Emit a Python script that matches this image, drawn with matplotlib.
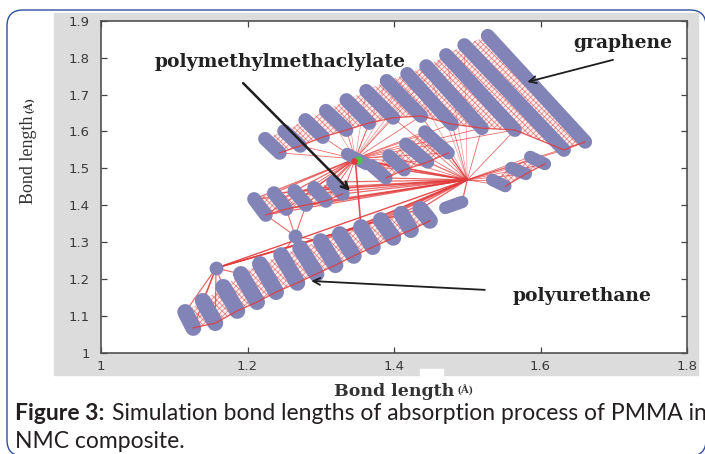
import numpy as np
import matplotlib.pyplot as plt
from matplotlib.patches import Polygon, Rectangle, FancyBboxPatch
from matplotlib.transforms import IdentityTransform

# axis ticks
x_ticks = [1.0, 1.2, 1.4, 1.6, 1.8]
x_tick_labels = ['1', '1.2', '1.4', '1.6', '1.8']
y_ticks = [1.0, 1.1, 1.2, 1.3, 1.4, 1.5, 1.6, 1.7, 1.8, 1.9]
y_tick_labels = ['1', '1.1', '1.2', '1.3', '1.4', '1.5', '1.6', '1.7', '1.8', '1.9']

# rows of atoms, each one from (x0, y0) to (x1, y1), bond length in A
# graphene sheet + upper chain
gr_x0 = [1.224, 1.250, 1.279, 1.307, 1.335, 1.362, 1.390, 1.418, 1.444, 1.471, 1.496, 1.528]
gr_y0 = [1.580, 1.601, 1.631, 1.656, 1.685, 1.710, 1.737, 1.756, 1.777, 1.807, 1.834, 1.859]
gr_x1 = [1.244, 1.272, 1.303, 1.335, 1.366, 1.399, 1.437, 1.479, 1.520, 1.565, 1.632, 1.661]
gr_y1 = [1.542, 1.561, 1.585, 1.604, 1.623, 1.637, 1.642, 1.620, 1.609, 1.604, 1.550, 1.572]
# small rows under the sheet
mid_x0 = [1.370, 1.393, 1.416, 1.442]
mid_y0 = [1.507, 1.534, 1.566, 1.599]
mid_x1 = [1.389, 1.414, 1.446, 1.474]
mid_y1 = [1.474, 1.496, 1.517, 1.542]
# tail right of the junction
tail_x0 = [1.534, 1.560, 1.586]
tail_y0 = [1.469, 1.501, 1.531]
tail_x1 = [1.552, 1.580, 1.606]
tail_y1 = [1.452, 1.485, 1.512]
# left group near 1.4
left_x0 = [1.209, 1.236, 1.264, 1.291, 1.317]
left_y0 = [1.417, 1.433, 1.439, 1.447, 1.463]
left_x1 = [1.225, 1.253, 1.280, 1.307, 1.330]
left_y1 = [1.374, 1.390, 1.401, 1.412, 1.431]
# polyurethane chain
pu_x0 = [1.115, 1.139, 1.167, 1.191, 1.217, 1.246, 1.272, 1.300, 1.326, 1.355, 1.382, 1.410, 1.436]
pu_y0 = [1.111, 1.141, 1.179, 1.214, 1.241, 1.265, 1.284, 1.303, 1.322, 1.341, 1.360, 1.377, 1.390]
pu_x1 = [1.126, 1.156, 1.186, 1.213, 1.239, 1.268, 1.294, 1.320, 1.345, 1.371, 1.399, 1.423, 1.449]
pu_y1 = [1.068, 1.081, 1.114, 1.138, 1.165, 1.190, 1.214, 1.238, 1.263, 1.287, 1.312, 1.333, 1.358]
row_x0 = [1.470]
row_y0 = [1.393]
row_x1 = [1.493]
row_y1 = [1.409]
# PMMA molecule
pmma_x0 = [1.336]
pmma_y0 = [1.539]
pmma_x1 = [1.362]
pmma_y1 = [1.512]
site_x, site_y = 1.351, 1.523

# junctions
hub_x = [1.347, 1.500]
hub_y = [1.526, 1.469]
node_x = [1.157, 1.265]
node_y = [1.230, 1.317]

# labels: text, text pos, arrow tail, arrow head
lab_text = ['polymethylmethaclylate', 'graphene', 'polyurethane']
lab_x = [1.244, 1.712, 1.657]
lab_y = [1.788, 1.840, 1.155]
arr_x0 = [1.194, 1.699, 1.524]
arr_y0 = [1.731, 1.794, 1.171]
arr_x1 = [1.340, 1.582, 1.287]
arr_y1 = [1.439, 1.734, 1.195]

dot = '#8284b8'
red = '#e23a3a'

W, H = 705, 454
fig = plt.figure(figsize=(W / 100, H / 100), dpi=100)
fig.patch.set_facecolor('white')

# grey panel behind the plot
fig.add_artist(Rectangle((54 / W, 1 - 375 / H), 644 / W, 362 / H,
                         transform=fig.transFigure, color='#dcdcdc', zorder=0))
fig.add_artist(Rectangle((420 / W, 1 - 377 / H), 23 / W, 8 / H,
                         transform=fig.transFigure, color='white', zorder=0))
# page frame
fig.add_artist(FancyBboxPatch((7, -2), 699, H - 10 + 2,
                              boxstyle='round,pad=0,rounding_size=16',
                              transform=IdentityTransform(), fill=False,
                              edgecolor='#2e4f9e', lw=1.0, zorder=0))

ax = fig.add_axes([101 / W, 1 - 353 / H, 586 / W, 332.3 / H])
ax.set_facecolor('white')
ax.set_xlim(1, 1.8)
ax.set_ylim(1, 1.9)
ax.set_xticks(x_ticks)
ax.set_xticklabels(x_tick_labels)
ax.set_yticks(y_ticks)
ax.set_yticklabels(y_tick_labels)
ax.tick_params(direction='in', length=4, width=0.9, top=True, right=True,
               labelsize=9.5, labelcolor='#3a3a3a', color='#444444')
ax.tick_params(axis='x', pad=5)
ax.tick_params(axis='y', pad=8)
for s in ax.spines.values():
    s.set_color('#505050')
    s.set_linewidth(1.2)

plt.rcParams['hatch.linewidth'] = 0.5
groups = [(gr_x0, gr_y0, gr_x1, gr_y1), (mid_x0, mid_y0, mid_x1, mid_y1),
          (tail_x0, tail_y0, tail_x1, tail_y1), (left_x0, left_y0, left_x1, left_y1),
          (pu_x0, pu_y0, pu_x1, pu_y1)]

# zig-zag bonds between neighbouring rows
for x0, y0, x1, y1 in groups:
    for i in range(len(x0) - 1):
        pts = [(x0[i], y0[i]), (x1[i], y1[i]), (x1[i + 1], y1[i + 1]), (x0[i + 1], y0[i + 1])]
        ax.add_patch(Polygon(pts, closed=True, facecolor='#fbeeee', edgecolor='#e57c7c',
                             hatch='xxxxxx', lw=0, zorder=1))
    # red bond along the lower edge
    ax.plot(x1, y1, color=red, lw=1.0, alpha=0.8, zorder=4)


def link(xa, ya, xs, ys, lw=0.6, alpha=0.75):
    for x, y in zip(xs, ys):
        ax.plot([xa, x], [ya, y], color=red, lw=lw, alpha=alpha, zorder=2)


# bonds from PMMA site
link(hub_x[0], hub_y[0], gr_x1[:10], gr_y1[:10])
link(hub_x[0], hub_y[0], gr_x0[3:10], gr_y0[3:10], lw=0.5, alpha=0.55)
link(hub_x[0], hub_y[0], left_x0, left_y0, lw=0.9)
link(hub_x[0], hub_y[0], left_x1, left_y1, lw=0.7)
link(hub_x[0], hub_y[0], mid_x0, mid_y0)
link(hub_x[0], hub_y[0], mid_x1, mid_y1)
link(hub_x[0], hub_y[0], [hub_x[1], pu_x0[9]], [hub_y[1], pu_y0[9]], lw=1.2, alpha=0.9)
# bonds from the junction under graphene
link(hub_x[1], hub_y[1], gr_x1[5:], gr_y1[5:])
link(hub_x[1], hub_y[1], gr_x0[7:11], gr_y0[7:11], lw=0.5, alpha=0.55)
link(hub_x[1], hub_y[1], mid_x1, mid_y1, lw=0.9)
link(hub_x[1], hub_y[1], mid_x0, mid_y0)
link(hub_x[1], hub_y[1], tail_x0, tail_y0)
link(hub_x[1], hub_y[1], tail_x1, tail_y1)
link(hub_x[1], hub_y[1], left_x0, left_y0, lw=0.9)
link(hub_x[1], hub_y[1], left_x1, left_y1, lw=0.9)
link(hub_x[1], hub_y[1], pu_x0[7:], pu_y0[7:], lw=1.0)
link(hub_x[1], hub_y[1], row_x1, row_y1, lw=1.0)
link(hub_x[1], hub_y[1], [node_x[0]], [node_y[0]], lw=1.0, alpha=0.9)
# bonds from the two lone atoms
link(node_x[0], node_y[0], pu_x0[:4], pu_y0[:4], lw=0.9)
link(node_x[0], node_y[0], pu_x1[:2], pu_y1[:2], lw=0.9)
link(node_x[0], node_y[0], pu_x0[9:], pu_y0[9:], lw=0.9)
link(node_x[1], node_y[1], left_x1[:3], left_y1[:3], lw=0.8)
link(node_x[1], node_y[1], pu_x0[5:8], pu_y0[5:8], lw=0.8)

# atoms
widths = [10, 9.5, 9, 10, 11.5]
for (x0, y0, x1, y1), w in zip(groups, widths):
    for a, b, c, d in zip(x0, y0, x1, y1):
        ax.plot([a, c], [b, d], color=dot, lw=w, solid_capstyle='round', zorder=3)
for x0, y0, x1, y1 in [(row_x0, row_y0, row_x1, row_y1), (pmma_x0, pmma_y0, pmma_x1, pmma_y1)]:
    for a, b, c, d in zip(x0, y0, x1, y1):
        ax.plot([a, c], [b, d], color=dot, lw=9, solid_capstyle='round', zorder=3)
ax.scatter(node_x, node_y, s=80, color=dot, zorder=3)
ax.scatter([site_x], [site_y], s=25, color='#4fbf4f', zorder=5)
ax.scatter([site_x - 0.006], [site_y - 0.004], s=14, color=red, zorder=5)

# labels with arrows
for i in range(3):
    ax.text(lab_x[i], lab_y[i], lab_text[i], ha='center', va='center',
            family='DejaVu Serif', weight='bold', fontsize=13.5, color='#222222', zorder=6)
    ax.annotate('', xy=(arr_x1[i], arr_y1[i]), xytext=(arr_x0[i], arr_y0[i]),
                arrowprops=dict(arrowstyle='->,head_length=0.5,head_width=0.25',
                                color='#1e1e1e', lw=1.8 if i == 0 else 1.3,
                                shrinkA=0, shrinkB=0), zorder=6)

# axis titles
xl = fig.text(394 / W, 1 - 391 / H, 'Bond length', ha='center', va='center',
              family='DejaVu Serif', weight='bold', fontsize=12.5, color='#333333')
yl = fig.text(29 / W, 1 - 160 / H, 'Bond length', rotation=90, ha='center', va='center',
              family='Liberation Serif', fontsize=13, color='#333333')
fig.canvas.draw()
bx = xl.get_window_extent()
by = yl.get_window_extent()
fig.text((bx.x1 + 3) / W, 1 - 390 / H, '(Å)', ha='left', va='center',
         family='Liberation Serif', weight='bold', fontsize=8, color='#333333')
fig.text(30 / W, (by.y1 + 3) / H, '(Å)', rotation=90, ha='center', va='bottom',
         family='Liberation Serif', weight='bold', fontsize=8, color='#333333')

# caption
cap = fig.text(15 / W, 1 - 414 / H, 'Figure 3:', ha='left', va='center',
               family='Lato', weight='bold', fontsize=16.5, color='#231f20')
fig.canvas.draw()
bb = cap.get_window_extent()
fig.text((bb.x1 + 7) / W, 1 - 414 / H,
         'Simulation bond lengths of absorption process of PMMA in',
         ha='left', va='center', family='Lato', fontsize=16.5, color='#231f20')
fig.text(15 / W, 1 - 441 / H, 'NMC composite.', ha='left', va='center',
         family='Lato', fontsize=16.5, color='#231f20')

fig.savefig('out.png', dpi=100)
